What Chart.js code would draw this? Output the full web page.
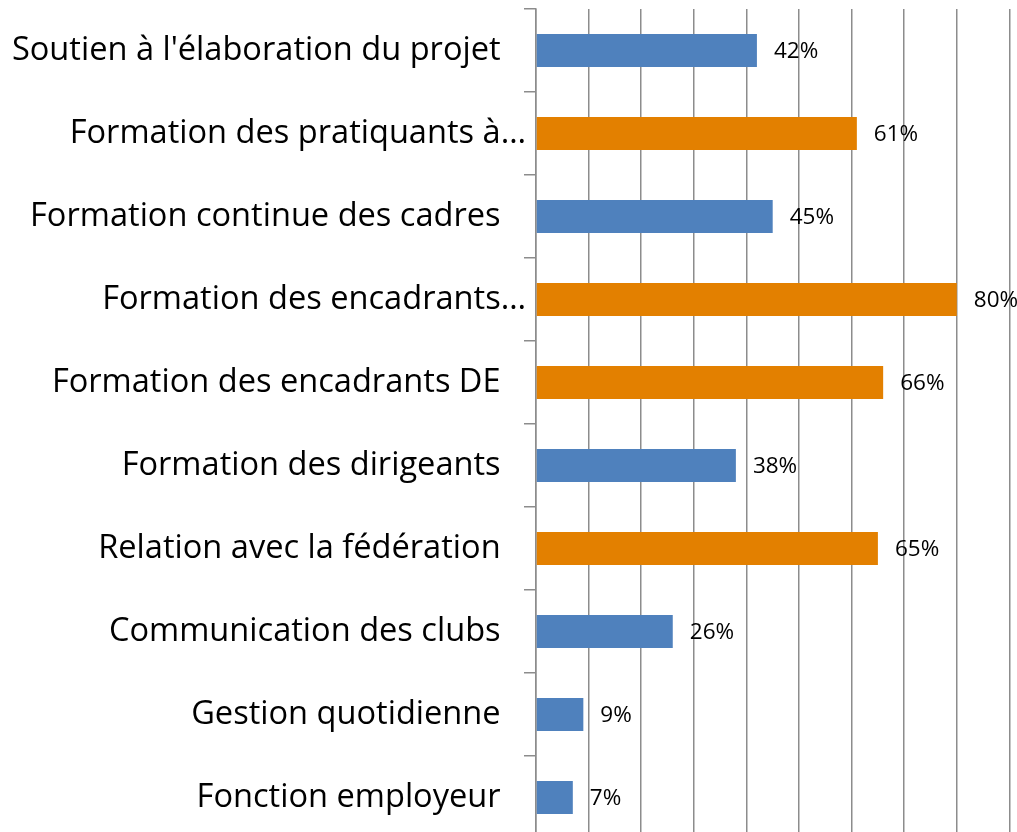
<!DOCTYPE html>
<html>
<head>
<meta charset="utf-8">
<script src="https://cdn.jsdelivr.net/npm/chart.js@4/dist/chart.umd.min.js"></script>
<style>
  html, body { margin: 0; padding: 0; background: #ffffff; overflow: hidden; width: 1017px; height: 832px; }
  canvas { display: block; }
</style>
</head>
<body>
<canvas id="c" width="1070" height="845"></canvas>
<script>
const categories = [
  "Soutien à l'élaboration du projet",
  "Formation des pratiquants à…",
  "Formation continue des cadres",
  "Formation des encadrants…",
  "Formation des encadrants DE",
  "Formation des dirigeants",
  "Relation avec la fédération",
  "Communication des clubs",
  "Gestion quotidienne",
  "Fonction employeur"
];
const values = [42, 61, 45, 80, 66, 38, 65, 26, 9, 7];
const highlighted = [false, true, false, true, true, false, true, false, false, false];

const BLUE = '#4F81BD';
const ORANGE = '#E38000';
const GRID = '#8c8c8c';
const FONT = '"Open Sans", "Noto Sans", sans-serif';

const dataLabels = {
  id: 'dataLabels',
  afterDatasetsDraw(chart) {
    const ctx = chart.ctx;
    const meta = chart.getDatasetMeta(0);
    ctx.save();
    ctx.font = '22.5px ' + FONT;
    ctx.fillStyle = '#000';
    ctx.textAlign = 'left';
    ctx.textBaseline = 'middle';
    meta.data.forEach((bar, i) => {
      ctx.fillText(values[i] + '%', bar.x + 17, bar.y + 1);
    });
    ctx.restore();
  }
};

new Chart(document.getElementById('c'), {
  type: 'bar',
  data: {
    labels: categories,
    datasets: [{
      data: values,
      backgroundColor: highlighted.map(h => h ? ORANGE : BLUE),
      borderWidth: 0,
      categoryPercentage: 0.8,
      barPercentage: 0.5
    }]
  },
  options: {
    indexAxis: 'y',
    responsive: false,
    animation: false,
    devicePixelRatio: 1,
    layout: { padding: { top: 9, right: 8, left: 0, bottom: 0 } },
    plugins: { legend: { display: false }, tooltip: { enabled: false } },
    scales: {
      x: {
        min: 0, max: 100,
        ticks: { display: false, stepSize: 10 },
        grid: { color: GRID, lineWidth: 1.5, drawTicks: false },
        border: { display: false },
        afterFit(scale) { scale.height = 6; scale.paddingLeft = 0; scale.paddingRight = 0; }
      },
      y: {
        ticks: {
          color: '#000',
          font: { family: FONT, size: 32.6 },
          padding: -2,
          callback(value) {
            const label = this.getLabelForValue(value);
            return label.endsWith('…') ? label : label + '\u00A0\u00A0\u00A0';
          }
        },
        grid: { drawOnChartArea: false, drawTicks: true, tickLength: 12, color: GRID, lineWidth: 1.5 },
        border: { color: GRID, width: 1.5 },
        afterFit(scale) { scale.width = 536; scale.paddingTop = 0; scale.paddingBottom = 0; }
      }
    }
  },
  plugins: [dataLabels]
});
</script>
</body>
</html>
